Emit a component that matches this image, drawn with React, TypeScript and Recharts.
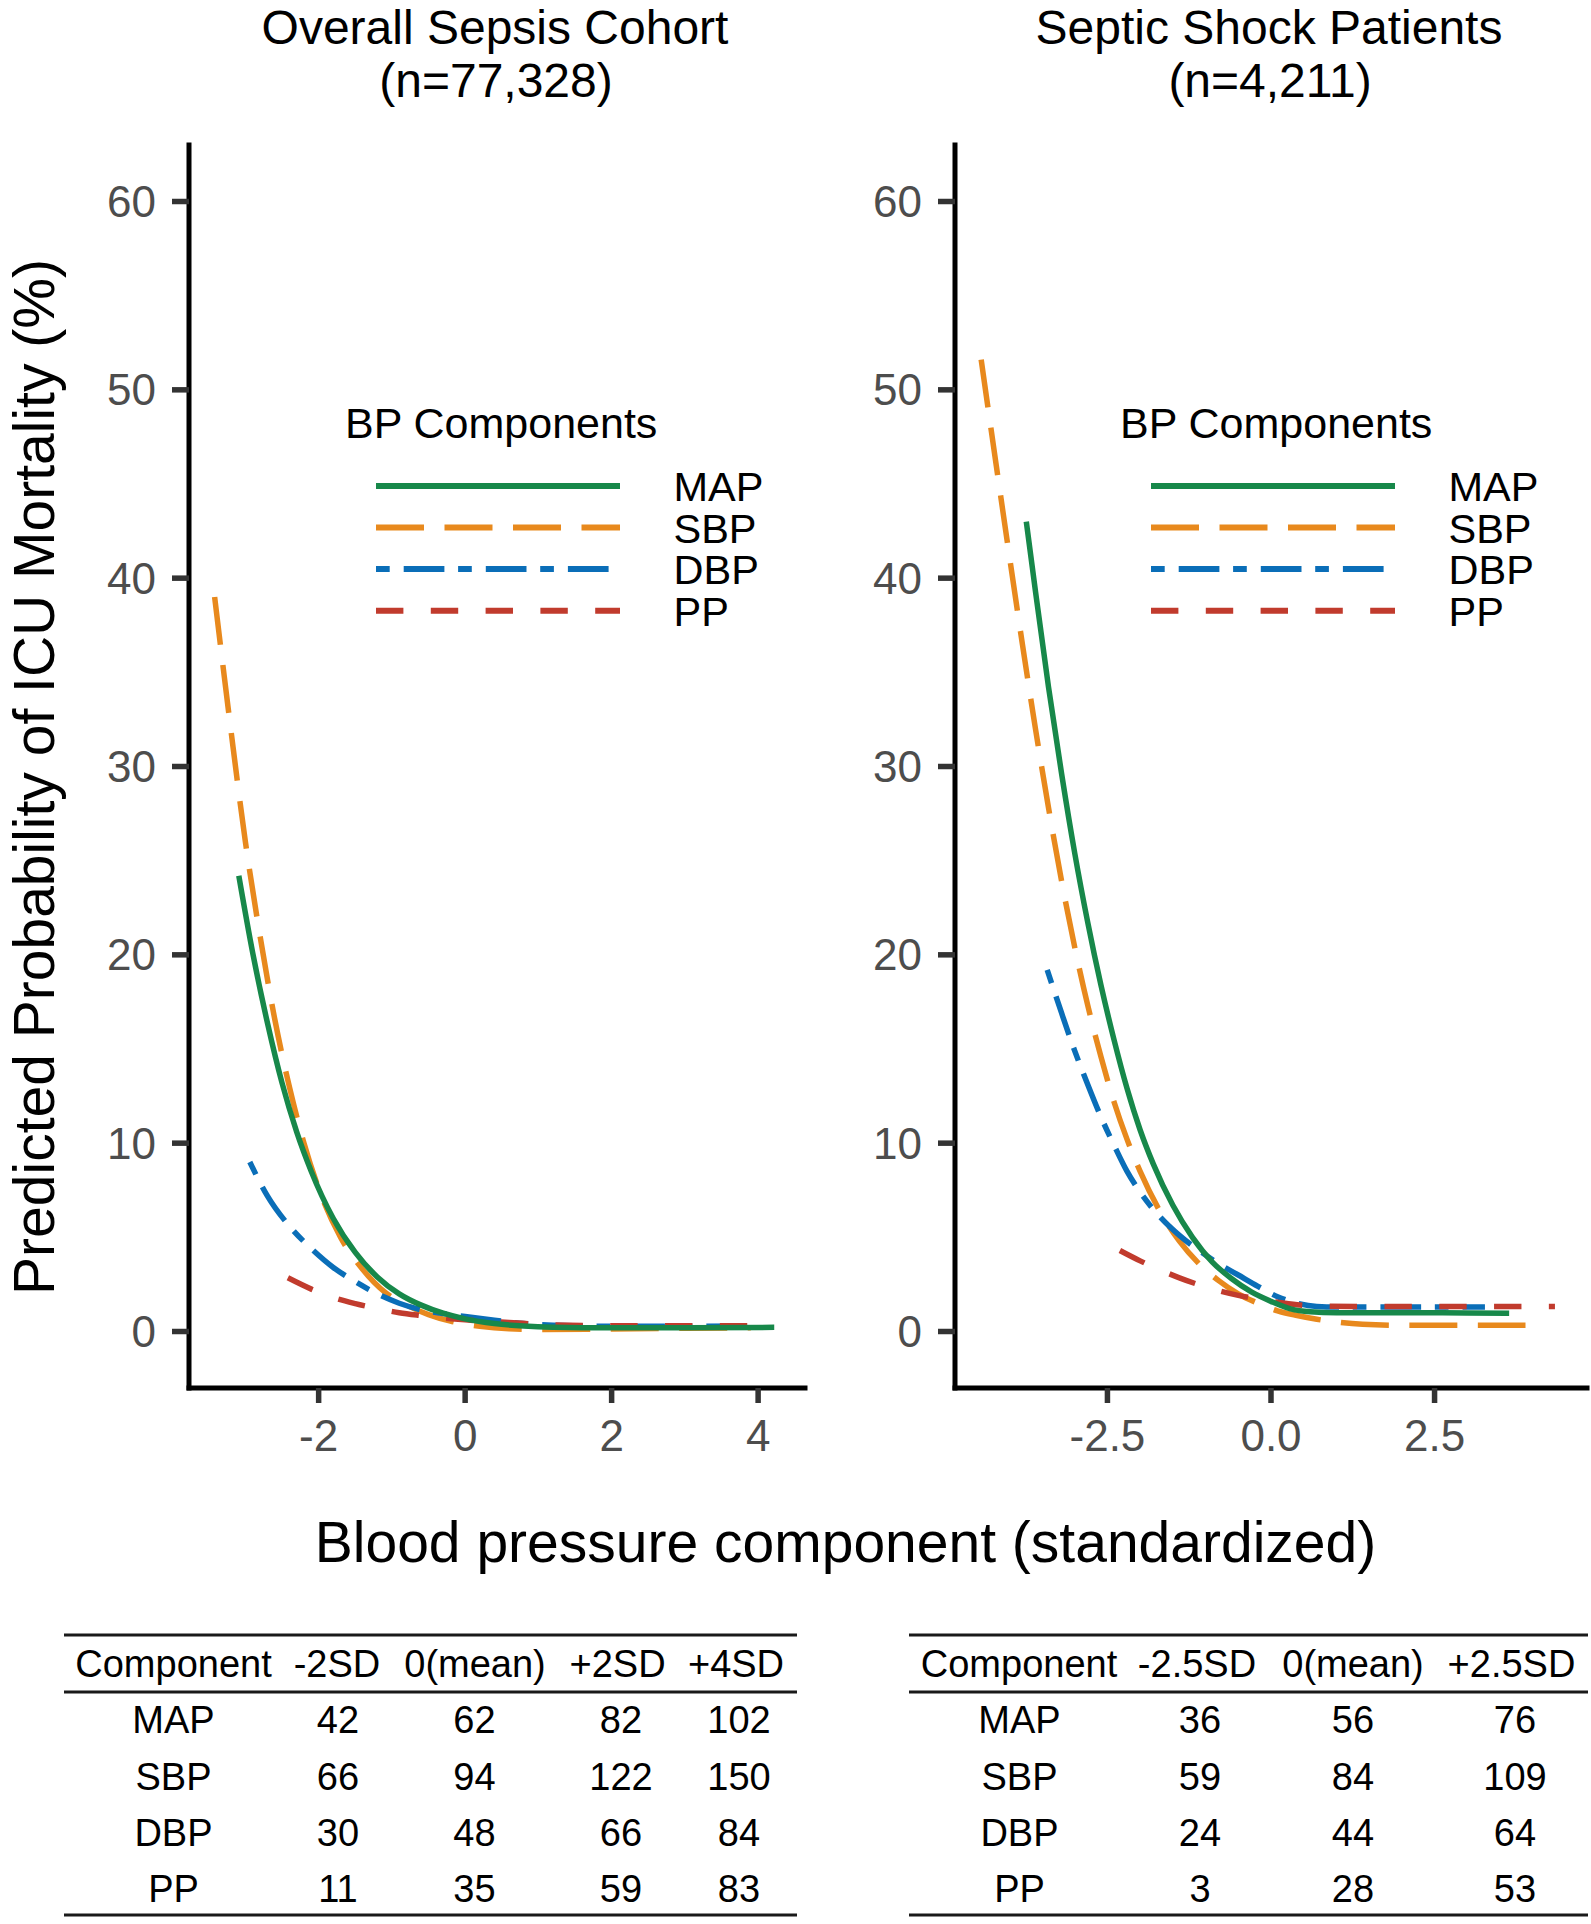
import React from 'react';
import { LineChart, Line, XAxis, YAxis, Legend } from 'recharts';

const FONT = '"Liberation Sans", Arial, Helvetica, sans-serif';

// ---- data (x = standardized BP, y = predicted ICU mortality %) ----
const overallMAP: [number, number][] = [
  [-3.09, 24.2], [-2.9, 20.1], [-2.7, 16.4], [-2.5, 13.2], [-2.3, 10.6], [-2.1, 8.5],
  [-1.8, 6.0], [-1.5, 4.2], [-1.2, 2.9], [-0.9, 2.0], [-0.6, 1.4], [-0.3, 0.97],
  [0, 0.67], [0.4, 0.42], [0.8, 0.29], [1.2, 0.23], [2.0, 0.2], [3.0, 0.2], [4.22, 0.22],
];
const overallSBP: [number, number][] = [
  [-3.42, 39.0], [-3.2, 32.0], [-3.0, 26.0], [-2.8, 21.0], [-2.6, 16.6], [-2.4, 13.0],
  [-2.2, 10.0], [-2.0, 7.6], [-1.7, 5.0], [-1.4, 3.3], [-1.1, 2.1], [-0.8, 1.4],
  [-0.5, 0.9], [-0.2, 0.55], [0.2, 0.28], [0.6, 0.14], [1.0, 0.1], [2.0, 0.13], [3.0, 0.17], [3.9, 0.2],
];
const overallDBP: [number, number][] = [
  [-2.94, 9.0], [-2.7, 7.2], [-2.4, 5.6], [-2.1, 4.4], [-1.8, 3.4], [-1.5, 2.65],
  [-1.2, 2.0], [-0.9, 1.5], [-0.6, 1.15], [-0.3, 0.95], [0, 0.8], [0.4, 0.6],
  [0.8, 0.42], [1.2, 0.33], [2.0, 0.28], [3.0, 0.28], [3.9, 0.3],
];
const overallPP: [number, number][] = [
  [-2.42, 2.85], [-2.1, 2.25], [-1.8, 1.8], [-1.5, 1.48], [-1.2, 1.22], [-0.9, 1.0],
  [-0.6, 0.85], [-0.3, 0.72], [0, 0.62], [0.6, 0.48], [1.2, 0.35], [2.0, 0.3], [3.0, 0.3], [4.0, 0.3],
];

const shockMAP: [number, number][] = [
  [-3.74, 43.0], [-3.6, 39.3], [-3.4, 34.2], [-3.2, 29.6], [-3.0, 25.4], [-2.8, 21.7],
  [-2.6, 18.4], [-2.4, 15.5], [-2.2, 12.9], [-2.0, 10.7], [-1.8, 8.9], [-1.5, 6.7],
  [-1.2, 5.0], [-0.9, 3.7], [-0.6, 2.8], [-0.3, 2.1], [0, 1.6], [0.3, 1.2], [0.6, 1.05],
  [1.0, 1.0], [2.0, 1.0], [3.0, 0.98], [3.64, 0.97],
];
const shockSBP: [number, number][] = [
  [-4.43, 51.6], [-4.2, 46.0], [-4.0, 41.2], [-3.8, 36.5], [-3.6, 32.0], [-3.4, 27.8],
  [-3.2, 23.9], [-3.0, 20.4], [-2.8, 17.3], [-2.6, 14.6], [-2.4, 12.2], [-2.2, 10.2],
  [-2.0, 8.5], [-1.7, 6.4], [-1.4, 4.8], [-1.1, 3.6], [-0.8, 2.7], [-0.5, 2.0],
  [-0.2, 1.5], [0.1, 1.1], [0.4, 0.85], [0.7, 0.65], [1.0, 0.5], [1.4, 0.38],
  [2.0, 0.33], [3.0, 0.33], [3.89, 0.33],
];
const shockDBP: [number, number][] = [
  [-3.42, 19.2], [-3.2, 16.9], [-3.0, 14.9], [-2.8, 13.1], [-2.6, 11.4], [-2.4, 9.9],
  [-2.2, 8.5], [-2.0, 7.4], [-1.7, 6.1], [-1.4, 5.1], [-1.1, 4.3], [-0.8, 3.6],
  [-0.5, 3.0], [-0.2, 2.4], [0.1, 1.85], [0.4, 1.5], [0.7, 1.33], [1.0, 1.3], [2.0, 1.3], [3.27, 1.3],
];
const shockPP: [number, number][] = [
  [-2.31, 4.3], [-2.0, 3.75], [-1.7, 3.28], [-1.4, 2.85], [-1.1, 2.48], [-0.8, 2.17],
  [-0.5, 1.92], [-0.2, 1.72], [0.1, 1.55], [0.4, 1.42], [0.8, 1.35], [1.5, 1.33], [3.0, 1.33], [4.34, 1.33],
];

const yTicks = [0, 10, 20, 30, 40, 50, 60];
const overallXTicks = [-2, 0, 2, 4];
const shockXTicks = [-2.5, 0, 2.5];

// tables under the panels
const overallHeader = ['Component', '-2SD', '0(mean)', '+2SD', '+4SD'];
const overallRows = [
  ['MAP', '42', '62', '82', '102'],
  ['SBP', '66', '94', '122', '150'],
  ['DBP', '30', '48', '66', '84'],
  ['PP', '11', '35', '59', '83'],
];
const shockHeader = ['Component', '-2.5SD', '0(mean)', '+2.5SD'];
const shockRows = [
  ['MAP', '36', '56', '76'],
  ['SBP', '59', '84', '109'],
  ['DBP', '24', '44', '64'],
  ['PP', '3', '28', '53'],
];

type Key = 'MAP' | 'SBP' | 'DBP' | 'PP';

const SERIES: { key: Key; color: string; dash?: string }[] = [
  { key: 'MAP', color: '#17884A' },
  { key: 'SBP', color: '#E8891D', dash: '48 20.5' },
  { key: 'DBP', color: '#0A6EB8', dash: '13.7 14 40.7 13.7' },
  { key: 'PP', color: '#C13B2D', dash: '27.4 27.4' },
];
const DRAW_ORDER: Key[] = ['SBP', 'DBP', 'PP', 'MAP'];

const toPoints = (arr: [number, number][]) => arr.map(([x, y]) => ({ x, y }));

const overallData: Record<Key, { x: number; y: number }[]> = {
  MAP: toPoints(overallMAP),
  SBP: toPoints(overallSBP),
  DBP: toPoints(overallDBP),
  PP: toPoints(overallPP),
};
const shockData: Record<Key, { x: number; y: number }[]> = {
  MAP: toPoints(shockMAP),
  SBP: toPoints(shockSBP),
  DBP: toPoints(shockDBP),
  PP: toPoints(shockPP),
};

function BPLegend() {
  return (
    <svg width={430} height={240} style={{ display: 'block', overflow: 'visible' }}>
      <text x={0} y={43} fontSize={43} fontFamily={FONT} fill="#000">BP Components</text>
      {SERIES.map((s, i) => {
        const y = 91 + i * 41.55;
        return (
          <g key={s.key}>
            <line x1={31} x2={275} y1={y} y2={y} stroke={s.color} strokeWidth={6} strokeDasharray={s.dash} />
            <text x={328.5} y={y + 15} fontSize={41.5} fontFamily={FONT} fill="#000">{s.key}</text>
          </g>
        );
      })}
    </svg>
  );
}

interface PanelProps {
  data: Record<Key, { x: number; y: number }[]>;
  width: number;
  rightMargin: number;
  xDomain: [number, number];
  xTicks: number[];
  fmt: (v: number) => string;
  legendLeft: number;
}

function Panel({ data, width, rightMargin, xDomain, xTicks, fmt, legendLeft }: PanelProps) {
  const tickStyle = { fontSize: 44, fill: '#4d4d4d', fontFamily: FONT };
  return (
    <LineChart width={width} height={1480} margin={{ top: 145, right: rightMargin, bottom: 0, left: 0 }}>
      <XAxis
        type="number"
        dataKey="x"
        domain={xDomain}
        ticks={xTicks}
        allowDataOverflow
        tickFormatter={fmt}
        height={92}
        axisLine={{ stroke: '#000', strokeWidth: 5, strokeLinecap: 'square' }}
        tickLine={{ stroke: '#333', strokeWidth: 5.5 }}
        tickSize={15}
        tickMargin={17}
        tick={tickStyle}
      />
      <YAxis
        type="number"
        domain={[-3, 63]}
        ticks={yTicks}
        allowDataOverflow
        width={189}
        axisLine={{ stroke: '#000', strokeWidth: 5, strokeLinecap: 'square' }}
        tickLine={{ stroke: '#333', strokeWidth: 5.5 }}
        tickSize={17}
        tickMargin={16}
        tick={tickStyle}
      />
      <Legend
        layout="vertical"
        align="center"
        verticalAlign="middle"
        wrapperStyle={{ left: legendLeft, top: 395, width: 430, height: 240 }}
        content={() => <BPLegend />}
      />
      {DRAW_ORDER.map((k) => {
        const s = SERIES.find((d) => d.key === k)!;
        return (
          <Line
            key={k}
            name={k}
            data={data[k]}
            dataKey="y"
            type="monotone"
            stroke={s.color}
            strokeWidth={5.5}
            strokeDasharray={s.dash}
            dot={false}
            activeDot={false}
            isAnimationActive={false}
          />
        );
      })}
    </LineChart>
  );
}

function Table({ header, rows, headerX, cellX, x0, x1 }: {
  header: string[]; rows: string[][]; headerX: number[]; cellX: number[]; x0: number; x1: number;
}) {
  const rowY = [1733, 1790, 1846, 1902];
  return (
    <g fontFamily={FONT} fontSize={38} fill="#000" textAnchor="middle">
      <line x1={x0} x2={x1} y1={1635} y2={1635} stroke="#1a1a1a" strokeWidth={3} />
      <line x1={x0} x2={x1} y1={1692} y2={1692} stroke="#1a1a1a" strokeWidth={3} />
      <line x1={x0} x2={x1} y1={1915} y2={1915} stroke="#1a1a1a" strokeWidth={3} />
      {header.map((h, i) => (
        <text key={h} x={headerX[i]} y={1677}>{h}</text>
      ))}
      {rows.map((r, ri) =>
        r.map((c, ci) => (
          <text key={`${ri}-${ci}`} x={cellX[ci]} y={rowY[ri]}>{c}</text>
        ))
      )}
    </g>
  );
}

export default function App() {
  return (
    <div style={{ position: 'absolute', left: 0, top: 0, width: 1591, height: 1924, background: '#fff', overflow: 'hidden' }}>
      <div style={{ position: 'absolute', left: 0, top: 0 }}>
        <Panel
          data={overallData}
          width={820}
          rightMargin={15}
          xDomain={[-3.77, 4.64]}
          xTicks={overallXTicks}
          fmt={(v) => String(v)}
          legendLeft={345}
        />
      </div>
      <div style={{ position: 'absolute', left: 766, top: 0 }}>
        <Panel
          data={shockData}
          width={825}
          rightMargin={4}
          xDomain={[-4.83, 4.83]}
          xTicks={shockXTicks}
          fmt={(v) => v.toFixed(1)}
          legendLeft={354}
        />
      </div>
      <svg width={1591} height={1924} style={{ position: 'absolute', left: 0, top: 0, pointerEvents: 'none' }}>
        <g fontFamily={FONT} fill="#000" textAnchor="middle" fontSize={48}>
          <text x={495} y={44}>Overall Sepsis Cohort</text>
          <text x={496} y={97}>(n=77,328)</text>
          <text x={1269} y={44}>Septic Shock Patients</text>
          <text x={1270} y={97}>(n=4,211)</text>
        </g>
        <text x={845.5} y={1562} fontFamily={FONT} fontSize={57} textAnchor="middle" fill="#000">
          Blood pressure component (standardized)
        </text>
        <text transform="translate(54,777) rotate(-90)" fontFamily={FONT} fontSize={57} textAnchor="middle" fill="#000">
          Predicted Probability of ICU Mortality (%)
        </text>
        <Table
          header={overallHeader}
          rows={overallRows}
          headerX={[173.5, 337, 475, 617.6, 736]}
          cellX={[173.5, 338, 474.5, 621, 739]}
          x0={64}
          x1={797}
        />
        <Table
          header={shockHeader}
          rows={shockRows}
          headerX={[1019, 1197, 1353, 1511.5]}
          cellX={[1019.5, 1200, 1353, 1515]}
          x0={909}
          x1={1588}
        />
      </svg>
    </div>
  );
}
